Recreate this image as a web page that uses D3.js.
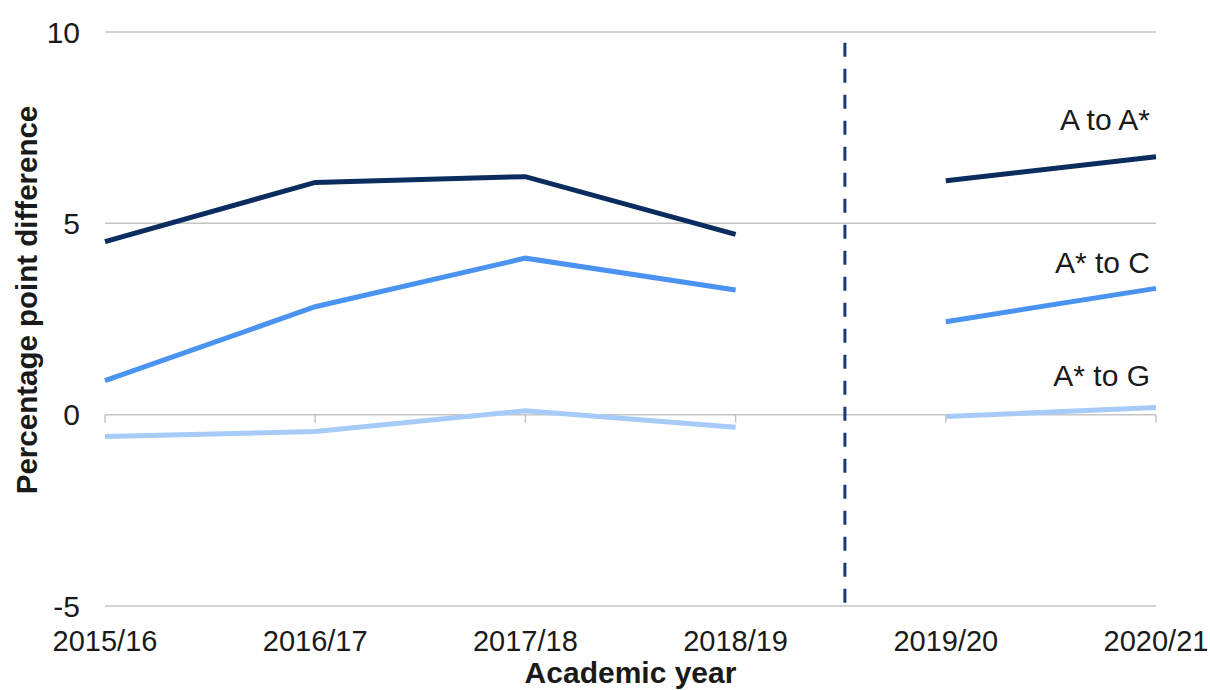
<!DOCTYPE html>
<html>
<head>
<meta charset="utf-8">
<script src="https://cdn.jsdelivr.net/npm/d3@7"></script>
<style>
  html, body { margin: 0; padding: 0; background: #fff; }
  text { font-family: "Liberation Sans", Arial, sans-serif; fill: #1a1a1a; }
</style>
</head>
<body>
<div id="chart"></div>
<script>
// Data
const years = ['2015/16', '2016/17', '2017/18', '2018/19', '2019/20', '2020/21'];
const aToAstar  = [4.52, 6.07, 6.22, 4.71, 6.11, 6.74];
const astarToC  = [0.89, 2.82, 4.09, 3.26, 2.43, 3.30];
const astarToG  = [-0.57, -0.44, 0.10, -0.33, -0.05, 0.19];
const yTicks = [-5, 0, 5, 10];
const seriesNames = ['A to A*', 'A* to C', 'A* to G'];
// break in the series between these two years
const breakAfter = '2018/19';

(function(){
  const svgWidth = 1210,
        svgHeight = 690,
        margin = { top: 32, right: 54, bottom: 84, left: 105 },
        width = svgWidth - margin.left - margin.right,
        height = svgHeight - margin.top - margin.bottom;

  const svg = d3.select('#chart')
    .append('svg')
    .attr('width', svgWidth)
    .attr('height', svgHeight);

  const chartGroup = svg.append('g')
    .attr('transform', `translate(${margin.left}, ${margin.top})`);

  const x = d3.scalePoint().domain(years).range([0, width]);
  const y = d3.scaleLinear().domain([-5, 10]).range([height, 0]);

  // gridlines
  chartGroup.append('g')
    .selectAll('line')
    .data(yTicks)
    .enter()
    .append('line')
    .attr('x1', 0)
    .attr('x2', width)
    .attr('y1', d => y(d))
    .attr('y2', d => y(d))
    .attr('stroke', '#c4c4c4')
    .attr('stroke-width', 1.5);

  // y tick labels
  chartGroup.append('g')
    .selectAll('text')
    .data(yTicks)
    .enter()
    .append('text')
    .attr('x', -25)
    .attr('y', d => y(d))
    .attr('dy', '0.35em')
    .attr('text-anchor', 'end')
    .style('font-size', '30px')
    .text(d => d);

  // category axis sits on the zero line, tick marks down
  chartGroup.append('g')
    .selectAll('line')
    .data(years)
    .enter()
    .append('line')
    .attr('x1', d => x(d))
    .attr('x2', d => x(d))
    .attr('y1', y(0))
    .attr('y2', y(0) + 8)
    .attr('stroke', '#c4c4c4')
    .attr('stroke-width', 1.5);

  // category labels at bottom
  chartGroup.append('g')
    .selectAll('text')
    .data(years)
    .enter()
    .append('text')
    .attr('x', d => x(d))
    .attr('y', height + 45)
    .attr('text-anchor', 'middle')
    .style('font-size', '29px')
    .text(d => d);

  // dashed divider between 2018/19 and 2019/20
  const divX = x(breakAfter) + x.step() * 0.52;
  chartGroup.append('line')
    .attr('x1', divX)
    .attr('x2', divX)
    .attr('y1', y(9.72))
    .attr('y2', y(-5))
    .attr('stroke', '#1b3a73')
    .attr('stroke-width', 3)
    .attr('stroke-dasharray', '14,12');

  // lines
  const colors = ['#0b2c5f', '#4b93f1', '#a7cbf8'];
  const allSeries = [aToAstar, astarToC, astarToG];
  const breakIdx = years.indexOf(breakAfter);

  const line = d3.line()
    .defined(d => d.v !== null)
    .x(d => x(d.year))
    .y(d => y(d.v));

  allSeries.forEach((vals, i) => {
    const pts = [];
    vals.forEach((v, j) => {
      pts.push({ year: years[j], v: v });
      if (j === breakIdx) pts.push({ year: years[j], v: null });
    });
    chartGroup.append('path')
      .datum(pts)
      .attr('fill', 'none')
      .attr('stroke', colors[i])
      .attr('stroke-width', 5)
      .attr('d', line);
  });

  // series labels near the right end
  const labelY = [130, 273, 386];
  chartGroup.append('g')
    .selectAll('text')
    .data(seriesNames)
    .enter()
    .append('text')
    .attr('x', width - 6)
    .attr('y', (d, i) => labelY[i] - margin.top)
    .attr('text-anchor', 'end')
    .style('font-size', '30px')
    .text(d => d);

  // axis titles
  svg.append('text')
    .attr('transform', 'rotate(-90)')
    .attr('x', -300)
    .attr('y', 37)
    .attr('text-anchor', 'middle')
    .style('font-size', '29.5px')
    .style('font-weight', 'bold')
    .text('Percentage point difference');

  svg.append('text')
    .attr('x', margin.left + width / 2)
    .attr('y', 683)
    .attr('text-anchor', 'middle')
    .style('font-size', '30px')
    .style('font-weight', 'bold')
    .text('Academic year');
})();
</script>
</body>
</html>
